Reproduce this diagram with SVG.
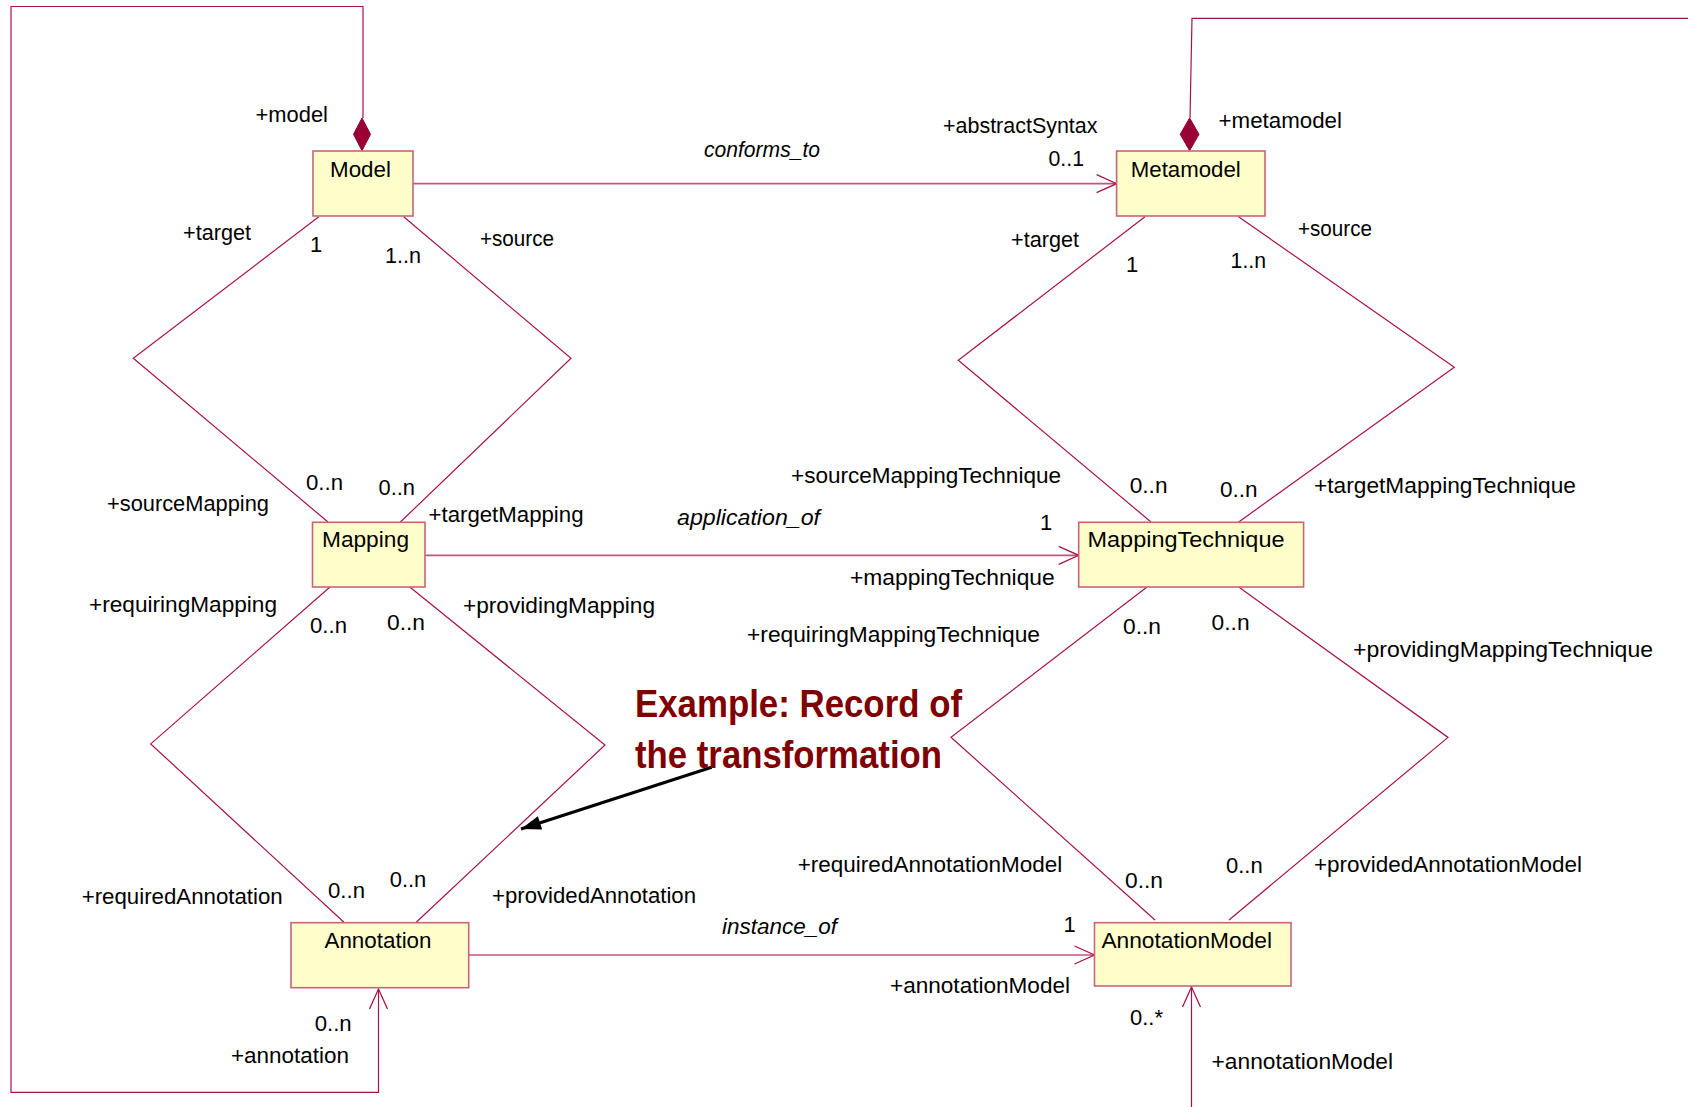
<svg xmlns="http://www.w3.org/2000/svg" width="1688" height="1107" viewBox="0 0 1688 1107">
  <style>
    .box { fill: #FFFFCC; stroke: #C86478; stroke-width: 1.6; }
    .name { font-family: "Liberation Sans", Arial, sans-serif; font-size: 22px; fill: #000; }
    .lbl { font-family: "Liberation Sans", Arial, sans-serif; font-size: 22px; fill: #000; }
    .it { font-style: italic; }
    .link { fill: none; stroke: #A8124C; stroke-width: 1.2; }
    .assoc { fill: none; stroke: #C0567A; stroke-width: 1.7; }
    .comp { fill: #990033; stroke: #990033; stroke-width: 1; }
    .note { font-family: "Liberation Sans", Arial, sans-serif; font-size: 39px; font-weight: bold; fill: #800000; }
  </style>
  <defs>
    <marker id="open" markerUnits="userSpaceOnUse" markerWidth="24" markerHeight="24" viewBox="-2 -12 24 24" refX="20" refY="0" orient="auto" overflow="visible">
      <path d="M0,-9 L20,0 L0,9" fill="none" stroke="#A8124C" stroke-width="1.3"/>
    </marker>
    <marker id="solid" markerUnits="userSpaceOnUse" markerWidth="24" markerHeight="24" viewBox="-2 -12 24 24" refX="20" refY="0" orient="auto" overflow="visible">
      <path d="M0,-7 L20,0 L0,7 Z" fill="#000"/>
    </marker>
  </defs>

  <rect width="1688" height="1107" fill="#FFFFFF"/>

  <!-- connectors -->
  <g id="connectors">
    <!-- Model / Mapping -->
    <polyline class="link" points="318.8,216.7 133.3,358.3 328,522"/>
    <polyline class="link" points="403.7,216.7 571,358.3 400.4,522"/>
    <!-- Metamodel / MappingTechnique -->
    <polyline class="link" points="1145,216.7 958.3,360.3 1151,522"/>
    <polyline class="link" points="1238.5,216.7 1454.3,367.3 1238.7,522"/>
    <!-- Mapping / Annotation -->
    <polyline class="link" points="330,587 150.7,743.9 343.7,922"/>
    <polyline class="link" points="409.8,587 605,745 416.5,922"/>
    <!-- MappingTechnique / AnnotationModel -->
    <polyline class="link" points="1147,587 951,737.3 1155,920"/>
    <polyline class="link" points="1238.7,587 1448,737.4 1229,920"/>

    <!-- directed associations -->
    <line class="assoc" x1="413" y1="183.7" x2="1116.6" y2="183.7" marker-end="url(#open)"/>
    <line class="assoc" x1="425" y1="555.3" x2="1078.7" y2="555.3" marker-end="url(#open)"/>
    <line class="assoc" x1="468.7" y1="955" x2="1094.5" y2="955" marker-end="url(#open)"/>

    <!-- Model composition loop down to Annotation -->
    <polyline class="link" points="363,118 363,6.5 11,6.5 11,1092.3 378.5,1092.3 378.5,989" marker-end="url(#open)"/>
    <polygon class="comp" points="362,118 370.5,134.3 362,150.7 353.5,134.3"/>

    <!-- Metamodel composition -->
    <polyline class="link" points="1190,118 1192,18.3 1688,18.3"/>
    <polygon class="comp" points="1189.6,118 1199,134.3 1189.6,150.7 1180.2,134.3"/>

    <!-- incoming association into AnnotationModel -->
    <line class="link" x1="1191.5" y1="1107" x2="1191.5" y2="987" marker-end="url(#open)"/>

    <!-- note pointer -->
    <line x1="711.7" y1="767.3" x2="521" y2="829" stroke="#000" stroke-width="3" marker-end="url(#solid)"/>
  </g>

  <!-- classes -->
  <g id="Model">
    <rect class="box" x="313" y="151" width="100" height="65"/>
    <text class="name" x="330" y="177" textLength="61" lengthAdjust="spacingAndGlyphs">Model</text>
  </g>
  <g id="Metamodel">
    <rect class="box" x="1116.6" y="151" width="148.4" height="65"/>
    <text class="name" x="1130.8" y="177" textLength="110" lengthAdjust="spacingAndGlyphs">Metamodel</text>
  </g>
  <g id="Mapping">
    <rect class="box" x="312.5" y="522.3" width="112.5" height="64.7"/>
    <text class="name" x="322" y="547.3" textLength="87" lengthAdjust="spacingAndGlyphs">Mapping</text>
  </g>
  <g id="MappingTechnique">
    <rect class="box" x="1078.7" y="522.3" width="224.9" height="64.7"/>
    <text class="name" x="1087.5" y="547.3" textLength="197" lengthAdjust="spacingAndGlyphs">MappingTechnique</text>
  </g>
  <g id="Annotation">
    <rect class="box" x="291" y="922.7" width="177.7" height="65"/>
    <text class="name" x="324.5" y="948.3" textLength="107" lengthAdjust="spacingAndGlyphs">Annotation</text>
  </g>
  <g id="AnnotationModel">
    <rect class="box" x="1094.5" y="922.7" width="196.5" height="63.3"/>
    <text class="name" x="1101.4" y="948.3" textLength="170.6" lengthAdjust="spacingAndGlyphs">AnnotationModel</text>
  </g>

  <!-- role names, multiplicities and association names -->
  <g id="labels">
    <text class="lbl" x="255.6" y="121.7" textLength="72.4" lengthAdjust="spacingAndGlyphs">+model</text>
    <text class="lbl" x="183" y="240" textLength="68" lengthAdjust="spacingAndGlyphs">+target</text>
    <text class="lbl" x="310" y="251.7">1</text>
    <text class="lbl" x="385" y="263" textLength="36" lengthAdjust="spacingAndGlyphs">1..n</text>
    <text class="lbl" x="480" y="245.6" textLength="74" lengthAdjust="spacingAndGlyphs">+source</text>
    <text class="lbl it" x="704" y="156.7" textLength="116" lengthAdjust="spacingAndGlyphs">conforms_to</text>
    <text class="lbl" x="943" y="132.7" textLength="154.5" lengthAdjust="spacingAndGlyphs">+abstractSyntax</text>
    <text class="lbl" x="1048.5" y="165.7" textLength="35.5" lengthAdjust="spacingAndGlyphs">0..1</text>
    <text class="lbl" x="1218.6" y="128.3" textLength="123.4" lengthAdjust="spacingAndGlyphs">+metamodel</text>
    <text class="lbl" x="1011" y="246.7" textLength="68" lengthAdjust="spacingAndGlyphs">+target</text>
    <text class="lbl" x="1126" y="271.7">1</text>
    <text class="lbl" x="1298" y="236" textLength="74" lengthAdjust="spacingAndGlyphs">+source</text>
    <text class="lbl" x="1230.6" y="267.7" textLength="35.4" lengthAdjust="spacingAndGlyphs">1..n</text>

    <text class="lbl" x="306" y="490" textLength="37" lengthAdjust="spacingAndGlyphs">0..n</text>
    <text class="lbl" x="378.5" y="495" textLength="36.5" lengthAdjust="spacingAndGlyphs">0..n</text>
    <text class="lbl" x="107" y="511" textLength="162" lengthAdjust="spacingAndGlyphs">+sourceMapping</text>
    <text class="lbl" x="428.5" y="521.7" textLength="155" lengthAdjust="spacingAndGlyphs">+targetMapping</text>
    <text class="lbl" x="791" y="483.3" textLength="270" lengthAdjust="spacingAndGlyphs">+sourceMappingTechnique</text>
    <text class="lbl" x="1129.7" y="492.7" textLength="37.8" lengthAdjust="spacingAndGlyphs">0..n</text>
    <text class="lbl" x="1220" y="497.3" textLength="37.6" lengthAdjust="spacingAndGlyphs">0..n</text>
    <text class="lbl" x="1314" y="492.7" textLength="262" lengthAdjust="spacingAndGlyphs">+targetMappingTechnique</text>
    <text class="lbl it" x="677" y="525" textLength="143" lengthAdjust="spacingAndGlyphs">application_of</text>
    <text class="lbl" x="1040" y="530">1</text>
    <text class="lbl" x="850" y="585" textLength="204.7" lengthAdjust="spacingAndGlyphs">+mappingTechnique</text>

    <text class="lbl" x="89" y="611.7" textLength="188" lengthAdjust="spacingAndGlyphs">+requiringMapping</text>
    <text class="lbl" x="310" y="633" textLength="37" lengthAdjust="spacingAndGlyphs">0..n</text>
    <text class="lbl" x="387" y="630" textLength="38" lengthAdjust="spacingAndGlyphs">0..n</text>
    <text class="lbl" x="463" y="612.7" textLength="192" lengthAdjust="spacingAndGlyphs">+providingMapping</text>
    <text class="lbl" x="747" y="641.7" textLength="293" lengthAdjust="spacingAndGlyphs">+requiringMappingTechnique</text>
    <text class="lbl" x="1123" y="634" textLength="38" lengthAdjust="spacingAndGlyphs">0..n</text>
    <text class="lbl" x="1211.6" y="630" textLength="38" lengthAdjust="spacingAndGlyphs">0..n</text>
    <text class="lbl" x="1353" y="656.7" textLength="300" lengthAdjust="spacingAndGlyphs">+providingMappingTechnique</text>

    <text class="lbl" x="81.7" y="904" textLength="201" lengthAdjust="spacingAndGlyphs">+requiredAnnotation</text>
    <text class="lbl" x="328" y="898.3" textLength="37" lengthAdjust="spacingAndGlyphs">0..n</text>
    <text class="lbl" x="389.7" y="886.7" textLength="36.6" lengthAdjust="spacingAndGlyphs">0..n</text>
    <text class="lbl" x="492" y="902.7" textLength="204" lengthAdjust="spacingAndGlyphs">+providedAnnotation</text>
    <text class="lbl" x="797.7" y="872.3" textLength="264.6" lengthAdjust="spacingAndGlyphs">+requiredAnnotationModel</text>
    <text class="lbl" x="1125" y="888.3" textLength="38" lengthAdjust="spacingAndGlyphs">0..n</text>
    <text class="lbl" x="1226" y="873.3" textLength="36.7" lengthAdjust="spacingAndGlyphs">0..n</text>
    <text class="lbl" x="1314" y="872.3" textLength="268" lengthAdjust="spacingAndGlyphs">+providedAnnotationModel</text>
    <text class="lbl it" x="722" y="934.3" textLength="115" lengthAdjust="spacingAndGlyphs">instance_of</text>
    <text class="lbl" x="1063.6" y="932.3">1</text>
    <text class="lbl" x="890" y="993.3" textLength="180" lengthAdjust="spacingAndGlyphs">+annotationModel</text>

    <text class="lbl" x="314.7" y="1030.7" textLength="37" lengthAdjust="spacingAndGlyphs">0..n</text>
    <text class="lbl" x="231" y="1063.3" textLength="118" lengthAdjust="spacingAndGlyphs">+annotation</text>
    <text class="lbl" x="1130" y="1025" textLength="33" lengthAdjust="spacingAndGlyphs">0..*</text>
    <text class="lbl" x="1211.6" y="1069.3" textLength="181.4" lengthAdjust="spacingAndGlyphs">+annotationModel</text>
  </g>

  <!-- annotation callout -->
  <g id="note">
    <text class="note" x="635" y="716.7" textLength="327" lengthAdjust="spacingAndGlyphs">Example: Record of</text>
    <text class="note" x="635" y="768.3" textLength="307" lengthAdjust="spacingAndGlyphs">the transformation</text>
  </g>
</svg>
